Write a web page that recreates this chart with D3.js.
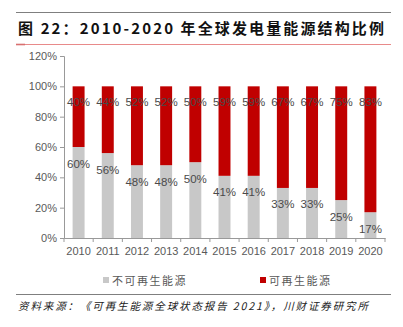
<!DOCTYPE html>
<html><head><meta charset="utf-8">
<script src="https://cdn.jsdelivr.net/npm/d3@7"></script>
<style>body{margin:0;background:#fff}svg{display:block}</style>
</head><body>
<svg id="c" width="403" height="327"></svg>
<script>
const years = ["2010","2011","2012","2013","2014","2015","2016","2017","2018","2019","2020"];
const nonRenewable = [60,56,48,48,50,41,41,33,33,25,17];
const renewable = [40,44,52,52,50,59,59,67,67,75,83];
const yTicks = [0,20,40,60,80,100,120];
const seriesNames = ["不可再生能源","可再生能源"];
const colors = ["#C8C8C8","#C00000"];

const svg = d3.select("#c");
const font = "'Noto Sans CJK SC', sans-serif";

// header
svg.append("line").attr("x1",16).attr("x2",391).attr("y1",12.5).attr("y2",12.5).attr("stroke","#7f7f7f").attr("stroke-width",1.2);
svg.append("text").attr("x",18).attr("y",34).attr("font-family",font).attr("font-weight","bold").attr("font-size",15)
  .attr("fill","#111").attr("textLength",366).attr("lengthAdjust","spacing")
  .text("图 22：2010-2020 年全球发电量能源结构比例");
svg.append("line").attr("x1",16).attr("x2",391).attr("y1",44.5).attr("y2",44.5).attr("stroke","#E88A8A").attr("stroke-width",1.2);
svg.append("line").attr("x1",16).attr("x2",25).attr("y1",44.5).attr("y2",44.5).attr("stroke","#D87070").attr("stroke-width",1.6);

const x = d3.scaleBand().domain(years).range([64,385]).paddingInner(0.59).paddingOuter(0.295);
const y = d3.scaleLinear().domain([0,120]).range([238,56]);

// y axis
const ya = svg.append("g").attr("transform","translate(64,0)")
  .call(d3.axisLeft(y).tickValues(yTicks).tickFormat(d=>d+"%").tickSize(4).tickPadding(3));
ya.select(".domain").attr("stroke","#999").attr("d","M-4,56.5H0.5V238.5H-4");
ya.selectAll(".tick line").attr("stroke","#999");
ya.selectAll(".tick text").attr("font-family","'Liberation Sans', Arial, sans-serif").attr("font-size",11).attr("fill","#595959");

// x axis
const xa = svg.append("g").attr("transform","translate(0,238)")
  .call(d3.axisBottom(x).tickSize(0).tickPadding(9));
xa.select(".domain").attr("stroke","#999");
xa.selectAll(".tick text").attr("font-family","'Liberation Sans', Arial, sans-serif").attr("font-size",11).attr("fill","#595959");
const step = x.step();
years.concat(["end"]).forEach((d,i)=>{
  const px = 64 + i*step;
  xa.append("line").attr("x1",px).attr("x2",px).attr("y1",0).attr("y2",4).attr("stroke","#999");
});

// bars
const data = years.map((d,i)=>({year:d, a:nonRenewable[i], b:renewable[i]}));
const g = svg.append("g");
g.selectAll(".nr").data(data).join("rect")
  .attr("x",d=>x(d.year)).attr("width",x.bandwidth())
  .attr("y",d=>y(d.a)).attr("height",d=>y(0)-y(d.a)).attr("fill",colors[0]);
g.selectAll(".re").data(data).join("rect")
  .attr("x",d=>x(d.year)).attr("width",x.bandwidth())
  .attr("y",d=>y(d.a+d.b)).attr("height",d=>y(d.a)-y(d.a+d.b)).attr("fill",colors[1]);

// labels
const lf = "'Liberation Sans', Arial, sans-serif";
g.selectAll(".lt").data(data).join("text")
  .attr("x",d=>x(d.year)+x.bandwidth()/2).attr("y",d=>y(d.a+d.b)+19.5)
  .attr("text-anchor","middle").attr("font-family",lf).attr("font-size",11.5).attr("fill","#4a4a4a")
  .text(d=>d.b+"%");
g.selectAll(".lb").data(data).join("text")
  .attr("x",d=>x(d.year)+x.bandwidth()/2).attr("y",d=>y(d.a)+20.5)
  .attr("text-anchor","middle").attr("font-family",lf).attr("font-size",11.5).attr("fill","#4a4a4a")
  .text(d=>d.a+"%");

// legend
const legX = [103,260];
seriesNames.forEach((n,i)=>{
  svg.append("rect").attr("x",legX[i]).attr("y",277).attr("width",6).attr("height",6).attr("fill",colors[i]);
  svg.append("text").attr("x",legX[i]+9).attr("y",285).attr("font-family",font).attr("font-size",11).attr("fill","#595959").attr("letter-spacing",1.5).text(n);
});

// footer
svg.append("line").attr("x1",16).attr("x2",391).attr("y1",294.5).attr("y2",294.5).attr("stroke","#7f7f7f").attr("stroke-width",1.2);
svg.append("text").attr("x",18).attr("y",310).attr("font-family",font).attr("font-style","italic").attr("font-size",10.5).attr("fill","#222")
  .attr("textLength",350).attr("lengthAdjust","spacing")
  .text("资料来源：《可再生能源全球状态报告 2021》，川财证券研究所");
</script>
</body></html>
